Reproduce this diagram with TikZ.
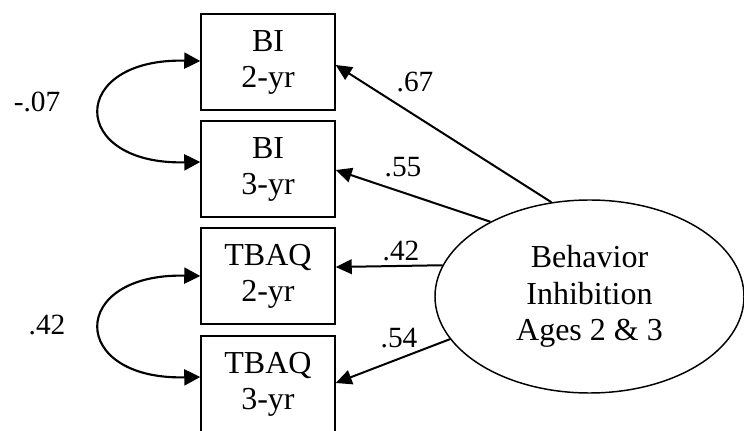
\documentclass[tikz,border=0pt]{standalone}
\usepackage{fontspec}
\setmainfont{Liberation Serif}
\usetikzlibrary{shapes.geometric,arrows.meta,calc}
\tikzset{
  obs/.style={draw, line width=1.1pt, rectangle, minimum width=100.5pt, minimum height=72pt, inner sep=0pt, align=center, font=\fontsize{24}{27}\selectfont},
  lat/.style={draw, line width=1.1pt, ellipse, minimum width=231.75pt, minimum height=144.75pt, inner sep=0pt, align=center, font=\fontsize{24}{27.5}\selectfont},
  lbl/.style={inner sep=0pt, font=\fontsize{22}{24}\selectfont},
  arr/.style={line width=1.5pt, -{Triangle[length=12pt,width=11pt]}},
  cov/.style={line width=1.6pt, {Triangle[length=12pt,width=12pt]}-{Triangle[length=12pt,width=12pt]}}
}
\begin{document}
\begin{tikzpicture}[x=0.75pt, y=-0.75pt]
\useasboundingbox (0,0) rectangle (744,431);
\node[obs] (b1) at (268,62) {BI\\2-yr};
\node[obs] (b2) at (268,169) {BI\\3-yr};
\node[obs] (b3) at (268,276) {TBAQ\\2-yr};
\node[obs] (b4) at (268,384) {TBAQ\\3-yr};
\node[lat] (ell) at (589.5,296.5) {Behavior\\Inhibition\\Ages 2 \& 3};
\draw[arr] (ell.112.7) -- ($(b1.east)+(0,3)$);
\draw[arr] (ell.143.2) -- ($(b2.east)+(0,1)$);
\draw[arr] (ell.168.6) -- ($(b3.east)+(0,-9)$);
\draw[arr] (ell.197.1) -- ($(b4.east)+(0,-1)$);
\node[lbl] (l67) at (415,82) {.67};
\node[lbl] (l55) at (403,167) {.55};
\node[lbl] (l42b) at (401,251) {.42};
\node[lbl] (l54) at (399,338) {.54};
\draw[cov] ($(b1.west)+(0,-1)$) .. controls (68,58) and (68,165) .. ($(b2.west)+(0,-7)$);
\draw[cov] (b3.west) .. controls (68,273) and (68,380) .. ($(b4.west)+(0,-7)$);
\node[lbl] (l07) at (37,102) {-.07};
\node[lbl] (l42a) at (47,325) {.42};
\end{tikzpicture}
\end{document}
